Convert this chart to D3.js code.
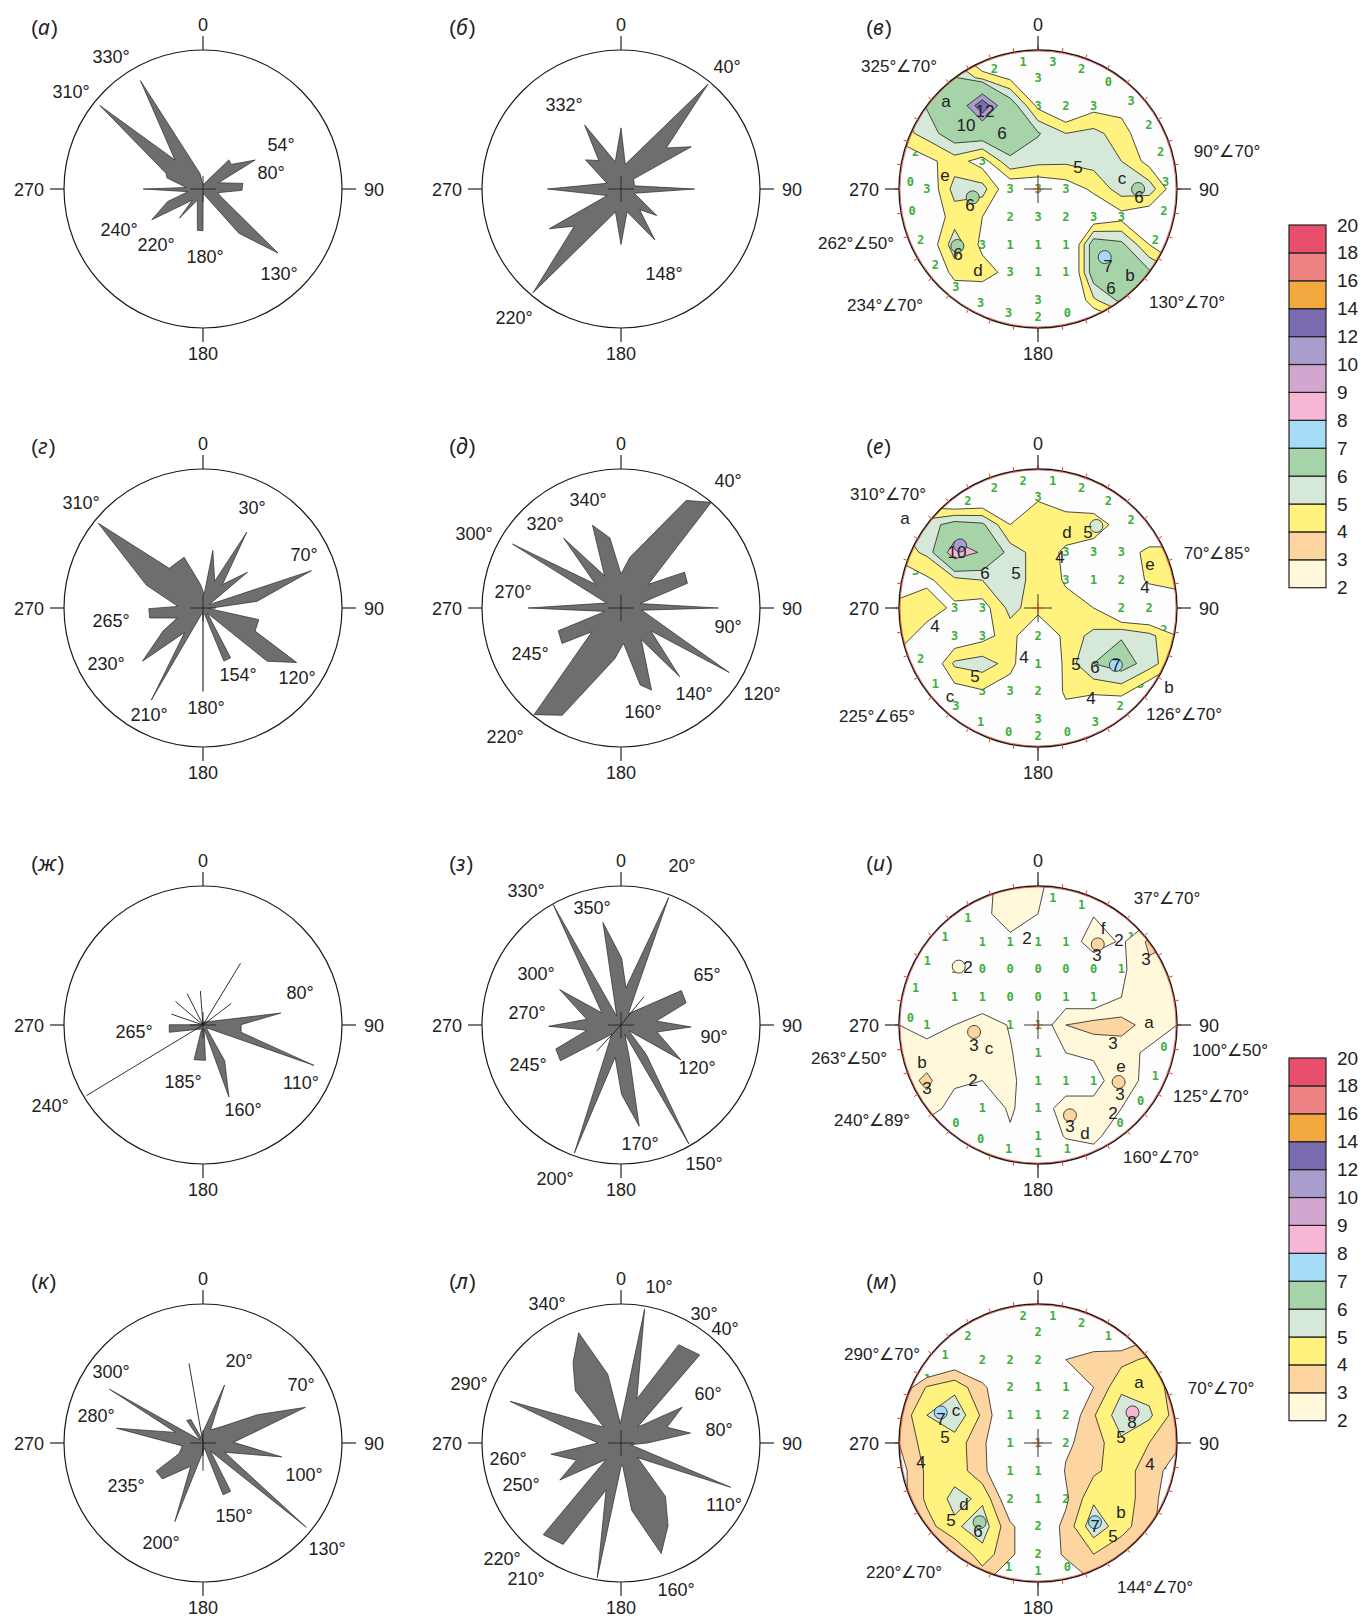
<!DOCTYPE html>
<html>
<head>
<meta charset="utf-8">
<script src="https://cdn.jsdelivr.net/npm/d3@7"></script>
<style>
  body { margin: 0; background: #fff; }
</style>
</head>
<body>
<div id="chart"></div>
<script>
const W = 1361, H = 1618, R = 139;
const colX = [203, 621, 1038];
const rowY = [189, 608, 1025, 1443];

// ---------- rose diagrams: [azimuth°, length relative to circle] ----------
const roseA = [[0,0.03],[41.6,0.28],[49,0.27],[61,0.43],[68,0.12],[82,0.29],[92,0.28],[104,0.11],[113,0.14],[130.5,0.71],[141,0.41],[155,0.07],[179,0.03],[180,0.30],[187.7,0.30],[207,0.09],[219,0.27],[224,0.11],[230,0.16],[239,0.43],[250.5,0.27],[260,0.11],[270,0.43],[275,0.12],[287,0.27],[293,0.29],[309,0.955],[316,0.29],[330,0.90],[349,0.114]];
const roseB = [[0,0.44],[9.8,0.18],[39.7,0.98],[47.8,0.44],[59,0.59],[51.7,0.115],[77,0.1],[90,0.53],[108,0.1],[126.5,0.32],[138,0.2],[146.4,0.44],[165,0.17],[180,0.40],[193.6,0.17],[220.3,0.98],[231.5,0.43],[241,0.59],[244.5,0.11],[270,0.53],[292,0.11],[309.4,0.33],[322,0.26],[330.4,0.53],[348,0.2]];
const roseG = [[5,0.1],[9.7,0.42],[23.6,0.21],[30,0.63],[39.6,0.22],[51.2,0.41],[61,0.05],[71,0.825],[83,0.39],[95,0.04],[101.8,0.41],[113.9,0.41],[120.2,0.78],[129.7,0.60],[140,0.05],[151,0.41],[158.5,0.41],[165,0.05],[179,0.04],[180,0.6],[181,0.04],[195,0.05],[209.3,0.76],[217,0.22],[228.7,0.58],[240.2,0.33],[248.7,0.2],[259.5,0.39],[269.3,0.39],[273.7,0.18],[292,0.44],[309,0.97],[319.6,0.375],[339.6,0.39],[354,0.17]];
const roseD = [[0,0.245],[10,0.37],[31.2,0.905],[40.5,1.0],[49,0.26],[60.6,0.525],[69.6,0.51],[77,0.14],[90,0.70],[96,0.15],[120.8,0.906],[127.5,0.27],[139.5,0.65],[147.4,0.27],[159.6,0.63],[166,0.57],[176,0.255],[186.8,0.365],[208.7,0.88],[219.2,0.99],[230.7,0.27],[239,0.495],[250,0.48],[258,0.117],[270,0.67],[289,0.11],[300.5,0.906],[313,0.25],[320.6,0.65],[333,0.26],[341,0.63],[351,0.51]];
const roseZh = [[0,0.02],[81.3,0.566],[89.5,0.274],[100.8,0.279],[110,0.85],[130,0.03],[148.7,0.30],[160.2,0.55],[165,0.03],[176,0.255],[194.4,0.258],[200,0.03],[257.8,0.248],[270.5,0.243],[275,0.02]];
const roseZ = [[0.6,0.48],[7.6,0.27],[20.5,0.98],[33,0.096],[60.3,0.5],[71.2,0.495],[83.6,0.256],[91.6,0.505],[101,0.264],[120.2,0.5],[126,0.07],[139.4,0.28],[150.3,0.985],[157,0.07],[166,0.265],[169.8,0.74],[179.5,0.50],[190.4,0.237],[200,0.98],[225,0.094],[239.4,0.506],[249.8,0.50],[261.2,0.248],[269,0.52],[279.4,0.25],[300,0.51],[302.5,0.164],[318,0.295],[330.6,0.995],[334,0.07],[350,0.75]];
const roseK = [[0,0.08],[20.4,0.445],[30,0.11],[49,0.18],[62.5,0.44],[70.8,0.78],[88.8,0.22],[100,0.575],[113.3,0.17],[129.2,0.96],[137,0.08],[150.2,0.40],[158.8,0.40],[165,0.04],[199.7,0.60],[208,0.19],[228.5,0.39],[239,0.394],[246,0.19],[262,0.15],[279.7,0.633],[291.3,0.21],[299.9,0.775],[315,0.03],[324.2,0.2],[332.8,0.19],[345,0.03]];
const roseL = [[358,0.14],[10,0.98],[19.8,0.337],[30.4,0.82],[41.8,0.85],[46.2,0.165],[59.7,0.51],[71.1,0.35],[81.9,0.505],[90,0.19],[100,0.07],[112,0.85],[131.4,0.16],[140.2,0.50],[150.4,0.685],[160,0.846],[171,0.49],[176,0.16],[180,0.17],[190,0.984],[197.6,0.355],[209.7,0.84],[220.3,0.865],[222,0.16],[238.8,0.515],[249,0.344],[260.9,0.51],[270,0.167],[290.6,0.852],[312.7,0.168],[318.9,0.50],[329.2,0.674],[339,0.85],[349.1,0.504]];

// single-line rays
const spokesZh = [[31.3,0.52],[52.6,0.255],[355.6,0.246],[333.2,0.253],[310.5,0.26],[289,0.24],[238.8,0.98]];
const spokesZ = [[39,0.26],[223,0.254]];
const spokesK = [[350,0.58],[180,0.2]];

// ---------- stereonet density grids (11 x 11, north at top) ----------
const gridV = [
  [3,4,4,2,2.5,2,2,2,2,2,2],
  [5.5,6,6.2,4.6,3.8,3,2,1.5,2,2,2],
  [5,6.1,6.9,13.9,6.8,3.7,2.5,3.6,3.6,2.5,2],
  [4.5,5.4,6.8,6.9,6.8,6.1,5.0,5.3,4.5,3,2.5],
  [3,3.7,4.5,3.5,5.8,5.3,5.2,5.4,5,3.6,3],
  [1.5,3,5.4,5.4,3,3,3.4,4.2,5.5,5.6,3],
  [1.5,3,4.5,4,2.5,3,2,3,3.6,3,2.5],
  [2.5,3,5.6,3.7,1,1.5,1.5,6.8,6.3,4,2],
  [2.5,2.5,4.4,4.5,3.6,1.5,1.5,6.8,6.6,6.2,5],
  [2.5,2.5,3,3,3.5,3,2,4.8,6.3,5,3],
  [2.5,2.5,3,3,3,2,2,2,3,3,2]
];
const gridE = [
  [2,2,2,2,2,2,2,2,2,2,2],
  [3,3,2,2.5,3,3.9,3.3,2.5,2,2,2],
  [5,5.5,6.5,6.2,4,4.5,4.6,5.0,3.2,2,2],
  [4.5,5.2,9,7.8,5.5,4.6,3.8,3,3,4.5,4.5],
  [3,3.8,4.6,5.0,5.5,4.6,3.9,1.5,2.5,4.3,4.5],
  [4.5,4.5,3.8,3.5,5.3,4.5,4.3,4.0,2,2,3],
  [4.5,3.5,3,3.6,4.5,2.5,4.4,5.3,5.9,5.3,4],
  [3.5,2.5,5.2,5.5,4.6,1.5,4.4,6.0,6.6,5.5,4],
  [2,1.5,3.5,3.9,3,2.5,4.2,4.2,4.4,3,3],
  [2,2,3,1.5,2,3,3.5,2.5,2,2,2],
  [2,2,2,2,1,1,1,2,2,2,2]
];
const gridI = [
  [1,1,1,1.8,2.3,2.3,1,1,1,1,1],
  [1,1,1,1.8,2.4,2.0,1,1.9,1.9,1.5,1],
  [1,1,1,1,1.8,1,1,2.8,1.8,3.2,3],
  [1,1,1.2,0.5,0.5,0.5,0.5,0.8,1.8,2.8,2.5],
  [1,1,1,1,0.8,0.5,1.3,1,2.0,2.5,2.2],
  [2.0,1.5,2.0,2.7,1.9,1,3.0,3.4,3.4,2.6,2.0],
  [2.4,2.5,2.4,2.4,2.1,1,2.0,2.2,2.4,1.8,1],
  [2.5,3.2,2.2,2.0,2.3,1,1,1.5,2.8,1.5,1],
  [1.5,2.6,1.5,1,2.2,1,2.8,2.4,2.0,1.5,1.5],
  [1,1,1,1,1.8,1,2.1,2.2,1.5,1,1],
  [1,1,1,1,1,1,1,1.5,1,1,1]
];
const gridM = [
  [1,1,1,1,2,2,1,1,1,1,1],
  [1.5,1.5,2,2,2,2,2.6,2,1.5,2.5,2],
  [1,1,2,2,2,2,3.0,3.4,3.7,4.2,4],
  [2,4.1,4.7,3.2,2,1,1.5,3.0,4.8,4.6,3.5],
  [3.2,5.0,5.8,3.8,1.5,1,2,3.9,5.6,5.2,3.5],
  [3.0,4.5,4.5,3.3,1,1,2.8,3.5,4.8,4.0,3.2],
  [2.5,4.2,4.6,3.3,1.5,1,3.1,3.8,4.5,3.5,2.5],
  [2.5,4.2,5.3,4.8,2,1,2.8,4.8,4.5,3.5,2],
  [2,3.6,4.8,5.6,3.2,2,3.3,5.7,4.4,3.3,2],
  [2,2,3.0,4.6,3.2,2,3.2,4.0,3.3,2,2],
  [2,2,2,3.2,2,1,2,3,2,2,2]
];

// counts along the rim, 27 sectors clockwise from north
const rimV = [3,2,0,3,2,2,3,2,2,5,5,3,0,2,3,3,3,2,2,0,0,2,4,6,4,2,1];
const rimE = [1,2,2,2,4,4,4,2,5,3,2,3,0,2,0,1,3,1,2,4,4,3,5,4,2,2,2];
const rimI = [1,1,2,1,3,2,2,0,1,0,0,2,1,1,1,0,0,3,3,2,0,1,1,1,1,2,2];
const rimM = [1,2,1,3,4,3,2,2,2,3,3,3,0,1,1,3,3,3,3,1,3,2,1,1,2,3,2];

// contour levels per net and local maxima [x, y (unit circle), value]
const thV = [4,5,6,10,12];
const thE = [4,5,6,8];
const thI = [2,3];
const thM = [3,4,5];
const maxV = [[-0.47,0.06,6],[-0.58,0.41,6],[0.72,0.0,6],[0.48,0.49,7]];
const maxE = [[-0.56,-0.45,10],[0.56,0.41,7],[0.42,-0.59,5]];
const maxI = [[0.43,-0.58,3],[-0.46,0.05,3],[0.58,0.41,3],[0.23,0.65,3],[-0.57,-0.42,2]];
const maxM = [[-0.70,-0.22,7],[0.68,-0.22,8],[-0.42,0.57,6],[0.41,0.57,7]];

// legend
const levels = [2,3,4,5,6,7,8,9,10,12,14,16,18,20];
const bandColors = ["#fff8db","#fcd5a1","#fff27e","#d6e9d8","#a7d3a9","#a5dbf4","#f6b6d4","#d1a7d0","#a89dcc","#7b6caf","#f4a93f","#ef8383","#e84f6c"];

// ---------- text layout (px offsets from each circle centre) ----------
const labA = [["330°",-92,-132],["310°",-132,-97],["54°",78,-44],["80°",68,-16],["240°",-84,41],["220°",-47,56],["180°",2,68],["130°",76,85]];
const labB = [["40°",106,-122],["332°",-57,-84],["148°",43,85],["220°",-107,129]];
const labG = [["310°",-122,-105],["30°",49,-100],["70°",101,-53],["265°",-92,13],["230°",-97,56],["154°",35,67],["120°",94,70],["210°",-54,107],["180°",3,100]];
const labD = [["40°",107,-127],["340°",-33,-108],["320°",-76,-84],["300°",-147,-74],["270°",-108,-16],["90°",107,19],["245°",-91,46],["140°",73,86],["120°",141,86],["160°",22,104],["220°",-116,129]];
const labZh = [["80°",97,-32],["265°",-69,7],["185°",-20,57],["110°",98,58],["160°",40,85],["240°",-153,81]];
const labZ = [["20°",61,-159],["330°",-95,-134],["350°",-29,-117],["300°",-85,-51],["65°",86,-50],["270°",-94,-12],["90°",93,12],["245°",-93,40],["120°",76,43],["170°",19,119],["150°",83,139],["200°",-66,154]];
const labK = [["20°",36,-82],["70°",98,-58],["300°",-92,-71],["280°",-107,-27],["100°",101,32],["235°",-77,43],["150°",31,73],["200°",-42,100],["130°",124,106]];
const labL = [["10°",38,-156],["340°",-74,-139],["30°",83,-129],["40°",104,-114],["290°",-152,-59],["60°",87,-49],["80°",98,-13],["260°",-113,16],["250°",-100,42],["110°",103,62],["220°",-119,116],["210°",-95,136],["160°",55,147]];

const txtV = [["a",-92,-88],["12",-53,-78],["10",-72,-64],["6",-36,-56],["5",40,-22],["c",84,-11],["6",101,8],["e",-93,-14],["6",-68,16],["6",-80,65],["d",-60,81],["7",70,77],["b",92,86],["6",73,99]];
const txtE = [["a",-133,-90],["10",-81,-56],["6",-53,-35],["5",-22,-35],["d",29,-76],["5",50,-76],["4",22,-51],["e",112,-44],["4",107,-21],["4",-103,18],["4",-14,49],["5",-63,68],["5",38,56],["6",57,59],["7",78,57],["4",53,90],["c",-88,88],["b",131,79]];
const txtI = [["2",-11,-87],["f",65,-97],["2",81,-85],["3",59,-70],["3",108,-66],["2",-70,-58],["a",111,-3],["3",75,18],["3",-64,20],["c",-49,23],["b",-116,37],["2",-65,55],["3",-111,63],["e",83,41],["3",82,69],["2",75,88],["3",32,101],["d",47,108]];
const txtM = [["a",101,-61],["8",94,-21],["5",83,-6],["4",112,21],["c",-82,-33],["7",-97,-24],["5",-93,-6],["4",-117,19],["d",-74,61],["5",-87,77],["6",-60,88],["b",83,69],["7",57,83],["5",75,93]];

const annV = [["325°∠70°",-139,-123],["90°∠70°",189,-38],["262°∠50°",-182,54],["234°∠70°",-153,116],["130°∠70°",149,113]];
const annE = [["310°∠70°",-150,-114],["70°∠85°",179,-55],["225°∠65°",-161,108],["126°∠70°",146,106]];
const annI = [["37°∠70°",129,-127],["100°∠50°",192,25],["263°∠50°",-189,33],["125°∠70°",173,71],["240°∠89°",-166,95],["160°∠70°",123,132]];
const annM = [["290°∠70°",-156,-89],["70°∠70°",183,-55],["220°∠70°",-134,129],["144°∠70°",117,144]];

// ---------------------------------------------------------------
const svg = d3.select("#chart").append("svg")
  .attr("width", W).attr("height", H)
  .attr("font-family", "'Liberation Sans', Arial, sans-serif");

const color = d3.scaleThreshold().domain(levels.slice(1, -1)).range(bandColors);
const rScale = d3.scaleLinear().domain([0, 1]).range([0, R]);
const radial = d3.lineRadial()
  .angle(d => d[0] * Math.PI / 180)
  .radius(d => rScale(d[1]))
  .curve(d3.curveLinearClosed);
const px = (az, r) => Math.sin(az * Math.PI / 180) * r;
const py = (az, r) => -Math.cos(az * Math.PI / 180) * r;

const addText = (g, data, size) => g.selectAll(null).data(data).join("text")
  .attr("x", d => d[1]).attr("y", d => d[2])
  .attr("text-anchor", "middle").attr("dominant-baseline", "central")
  .attr("font-size", size).attr("fill", "#222").text(d => d[0]);

const drawAxes = (g, letter) => {
  let ticks = [[0,-1],[1,0],[0,1],[-1,0]];
  g.selectAll(null).data(ticks).join("line")
    .attr("x1", d => d[0] * R).attr("y1", d => d[1] * R)
    .attr("x2", d => d[0] * (R + 14)).attr("y2", d => d[1] * (R + 14))
    .attr("stroke", "#222").attr("stroke-width", 1.2);
  let ax = [["0",0,-164,"middle"],["90",161,1,"start"],["180",0,165,"middle"],["270",-159,1,"end"]];
  g.selectAll(null).data(ax).join("text")
    .attr("x", d => d[1]).attr("y", d => d[2])
    .attr("text-anchor", d => d[3]).attr("dominant-baseline", "central")
    .attr("font-size", 18).attr("fill", "#222").text(d => d[0]);
  let t = g.append("text").attr("x", -172).attr("y", -162)
    .attr("dominant-baseline", "central").attr("font-size", 21).attr("fill", "#222");
  t.append("tspan").text("(");
  t.append("tspan").attr("font-style", "italic").attr("font-family", "'Noto Sans'").text(letter);
  t.append("tspan").attr("dx", 1).text(")");
};

const drawCross = (g, size, col) => {
  g.append("line").attr("x1", -size).attr("x2", size).attr("stroke", col).attr("stroke-width", 0.9);
  g.append("line").attr("y1", -size).attr("y2", size).attr("stroke", col).attr("stroke-width", 0.9);
};

const drawRose = (p) => {
  let g = svg.append("g").attr("transform", `translate(${colX[p.col]},${rowY[p.row]})`);
  g.append("circle").attr("r", R).attr("fill", "#fff").attr("stroke", "#1a1a1a").attr("stroke-width", 1.2);
  g.append("path").attr("d", radial(p.verts))
    .attr("fill", "#6e6e6e").attr("stroke", "#2b2b2b").attr("stroke-width", 0.7);
  g.selectAll(null).data(p.spokes || []).join("line")
    .attr("x2", d => px(d[0], rScale(d[1]))).attr("y2", d => py(d[0], rScale(d[1])))
    .attr("stroke", "#1a1a1a").attr("stroke-width", 0.9);
  drawCross(g, 13, "#222");
  addText(g, p.labels, 18);
  drawAxes(g, p.letter);
};

const drawNet = (p) => {
  let g = svg.append("g").attr("transform", `translate(${colX[2]},${rowY[p.row]})`);
  let clipId = "netclip" + p.row;
  g.append("clipPath").attr("id", clipId).append("circle").attr("r", R);
  g.append("circle").attr("r", R).attr("fill", "#fdfdfd");
  let inner = g.append("g").attr("clip-path", `url(#${clipId})`);

  let gs = d3.scaleLinear().domain([0.5, 10.5]).range([-R, R]);
  let ns = d3.scaleLinear().domain([-1, 1]).range([-R, R]);
  let path = d3.geoPath(d3.geoTransform({ point(x, y) { this.stream.point(gs(x), gs(y)); } }));
  let flat = p.grid.flat();

  // counting-grid values (green)
  let cells = flat.map((v, k) => ({ v, i: k % 11, j: Math.floor(k / 11) }))
    .filter(d => Math.hypot((d.i - 5) / 5, (d.j - 5) / 5) <= 0.8 && d.v < p.th[0]);
  inner.selectAll(null).data(cells).join("text")
    .attr("x", d => gs(d.i + 0.5)).attr("y", d => gs(d.j + 0.5))
    .attr("text-anchor", "middle").attr("dominant-baseline", "central")
    .attr("font-size", 12).attr("font-weight", "bold")
    .attr("font-family", "'DejaVu Sans Mono', monospace")
    .attr("fill", "#3dae3f").text(d => Math.floor(d.v));
  let rim = p.rim.map((v, k) => ({ v, az: (k + 0.5) * 360 / p.rim.length })).filter(d => d.v < p.th[0]);
  inner.selectAll(null).data(rim).join("text")
    .attr("x", d => px(d.az, R * 0.92)).attr("y", d => py(d.az, R * 0.92))
    .attr("text-anchor", "middle").attr("dominant-baseline", "central")
    .attr("font-size", 12).attr("font-weight", "bold")
    .attr("font-family", "'DejaVu Sans Mono', monospace")
    .attr("fill", "#3dae3f").text(d => d.v);

  let bands = d3.contours().size([11, 11]).thresholds(p.th)(flat);
  inner.selectAll(null).data(bands).join("path")
    .attr("d", path).attr("fill", d => color(d.value))
    .attr("stroke", "#1e1e1e").attr("stroke-width", 0.8).attr("stroke-linejoin", "round");

  inner.selectAll(null).data(p.maxima).join("circle")
    .attr("cx", d => ns(d[0])).attr("cy", d => ns(d[1])).attr("r", 6.5)
    .attr("fill", d => color(d[2])).attr("stroke", "#1e1e1e").attr("stroke-width", 0.8);

  g.append("circle").attr("r", R).attr("fill", "none").attr("stroke", "#1a1a1a").attr("stroke-width", 1.4);
  g.append("circle").attr("r", R - 1).attr("fill", "none").attr("stroke", "#d9412c").attr("stroke-width", 0.7);
  g.selectAll(null).data(d3.range(0, 360, 10)).join("line")
    .attr("x1", a => px(a, R - 1)).attr("y1", a => py(a, R - 1))
    .attr("x2", a => px(a, R + 4)).attr("y2", a => py(a, R + 4))
    .attr("stroke", "#d9412c").attr("stroke-width", 1);
  drawCross(g, 14, "#222");
  drawCross(g, 5, "#d9412c");

  addText(g, p.text, 17);
  addText(g, p.ann, 17);
  drawAxes(g, p.letter);
};

const drawLegend = (top) => {
  let h = 27.9;
  let y = d3.scaleLinear().domain([0, 13]).range([top + 13 * h, top]);
  let g = svg.append("g");
  g.selectAll(null).data(bandColors).join("rect")
    .attr("x", 1289).attr("width", 37)
    .attr("y", (d, i) => y(i + 1)).attr("height", (d, i) => y(i) - y(i + 1))
    .attr("fill", d => d).attr("stroke", "#222").attr("stroke-width", 1.2);
  g.selectAll(null).data(levels).join("text")
    .attr("x", 1337).attr("y", (d, i) => y(i))
    .attr("dominant-baseline", "central").attr("font-size", 19).attr("fill", "#222")
    .text(d => d);
};

const roses = [
  { letter: "а", col: 0, row: 0, verts: roseA, labels: labA },
  { letter: "б", col: 1, row: 0, verts: roseB, labels: labB },
  { letter: "г", col: 0, row: 1, verts: roseG, labels: labG },
  { letter: "д", col: 1, row: 1, verts: roseD, labels: labD },
  { letter: "ж", col: 0, row: 2, verts: roseZh, labels: labZh, spokes: spokesZh },
  { letter: "з", col: 1, row: 2, verts: roseZ, labels: labZ, spokes: spokesZ },
  { letter: "к", col: 0, row: 3, verts: roseK, labels: labK, spokes: spokesK },
  { letter: "л", col: 1, row: 3, verts: roseL, labels: labL }
];
const nets = [
  { letter: "в", row: 0, grid: gridV, rim: rimV, th: thV, maxima: maxV, text: txtV, ann: annV },
  { letter: "е", row: 1, grid: gridE, rim: rimE, th: thE, maxima: maxE, text: txtE, ann: annE },
  { letter: "и", row: 2, grid: gridI, rim: rimI, th: thI, maxima: maxI, text: txtI, ann: annI },
  { letter: "м", row: 3, grid: gridM, rim: rimM, th: thM, maxima: maxM, text: txtM, ann: annM }
];

roses.forEach(drawRose);
nets.forEach(drawNet);
drawLegend(225);
drawLegend(1058);
</script>
</body>
</html>
